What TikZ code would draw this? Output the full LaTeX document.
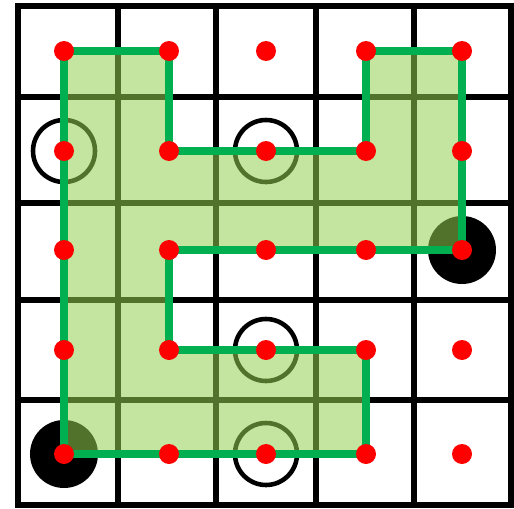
\documentclass[tikz,border=0pt]{standalone}
\usepackage{xcolor}
\usepackage{tikz}
\usetikzlibrary{positioning}

\definecolor{pathgreen}{HTML}{00B050}
\definecolor{areagreen}{HTML}{92D050}

\begin{document}
\begin{tikzpicture}[
  x=0.5mm,y=-0.5mm,
  gridln/.style={line width=8pt},
  dot/.style={circle,fill=red,inner sep=0pt,minimum size=10mm},
  ring/.style={circle,draw,line width=6.5pt,inner sep=0pt,minimum size=31mm},
  disk/.style={circle,fill=black,inner sep=0pt,minimum size=34mm},
  route/.style={draw=pathgreen,line width=10pt},
  area/.style={fill=areagreen,fill opacity=0.55}
]
\useasboundingbox (0,0) rectangle (514,509);
% board
\draw[gridln] (18,6) rectangle (511,505);
\foreach \gx in {118,216,316,414}
  \draw[gridln] (\gx,6) -- (\gx,505);
\foreach \gy in {97,203,300,400}
  \draw[gridln] (18,\gy) -- (511,\gy);
% cell centres
\foreach \c/\px in {0/64,1/169,2/266,3/366,4/462}
  \foreach \r/\py in {0/51,1/151,2/250,3/350,4/454}
    \coordinate (p\r\c) at (\px,\py);
% stones
\node[ring] (s10) at (p10) {};
\node[ring] (s12) at (p12) {};
\node[ring] (s32) at (p32) {};
\node[ring] (s42) at (p42) {};
\node[disk] (b24) at (p24) {};
\node[disk] (b40) at (p40) {};
% region and its border
\fill[area] (p40) -- (p00) -- (p01) -- (p11) -- (p13) -- (p03) -- (p04)
  -- (p24) -- (p21) -- (p31) -- (p33) -- (p43) -- cycle;
\draw[route] (p40) -- (p00) -- (p01) -- (p11) -- (p13) -- (p03) -- (p04)
  -- (p24) -- (p21) -- (p31) -- (p33) -- (p43) -- cycle;
% points
\foreach \r in {0,...,4}
  \foreach \c in {0,...,4}
    \node[dot] (d\r\c) at (p\r\c) {};
\end{tikzpicture}
\end{document}
